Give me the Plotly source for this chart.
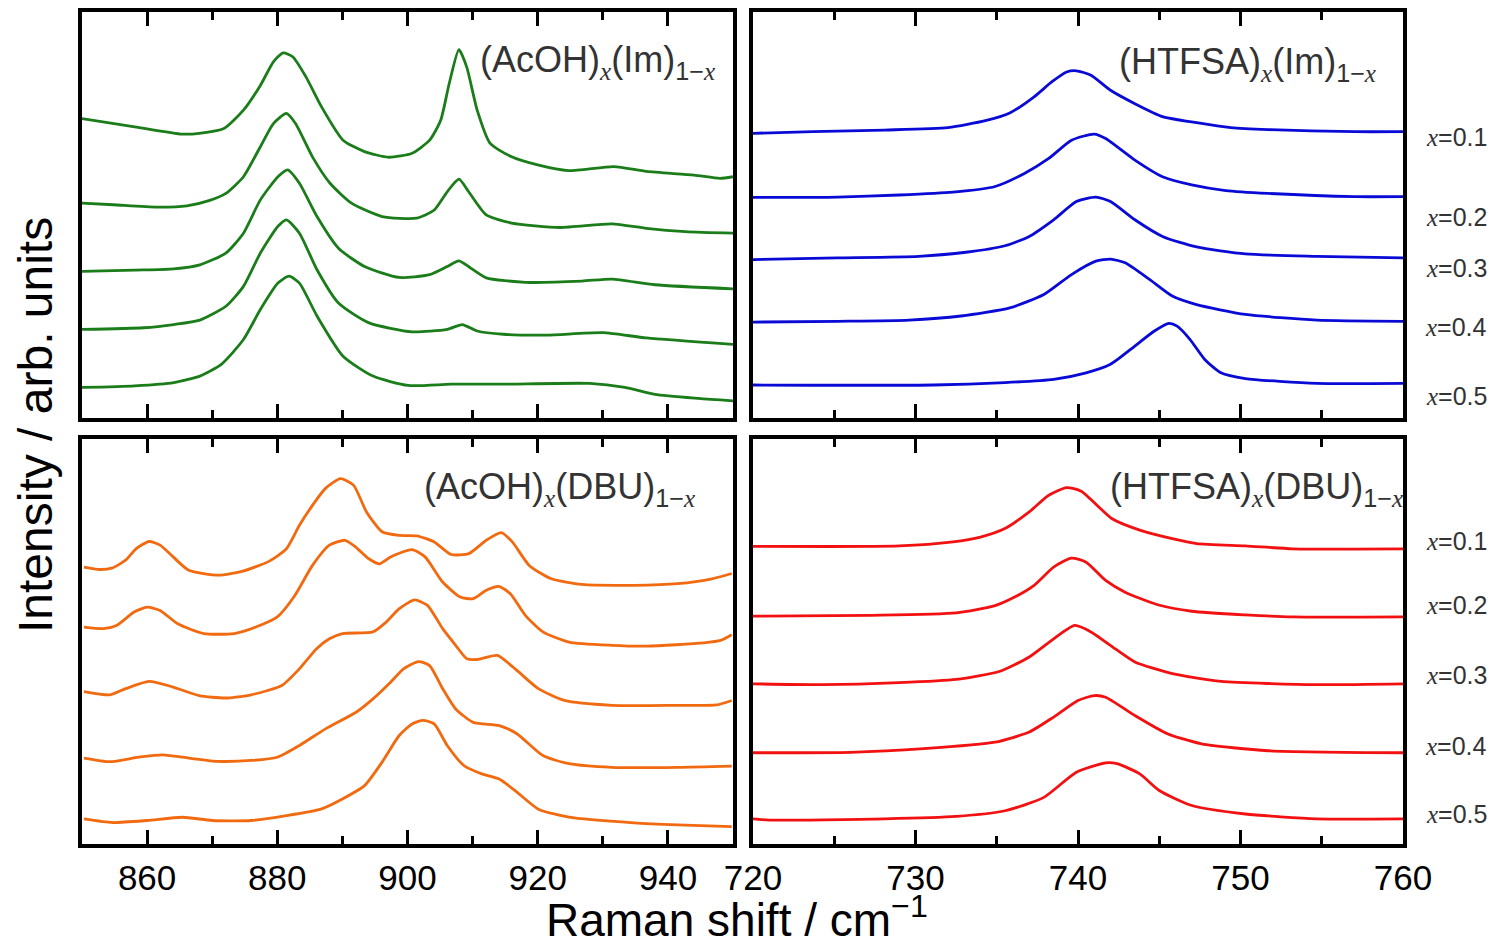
import plotly.graph_objects as go

W, H = 1494, 944

# ---------------- data (y in arb. units, 0-100 per panel) -------------
# (AcOH)x(Im)1-x  : x = 0.1 ... 0.5 (top to bottom)
AIM_X = [
    [850, 858.1, 865.4, 868, 871.8, 874.8, 877.4, 879.4, 880.9, 882.4, 884.4, 886.8, 890.1, 893.4, 897.1, 900.7, 903.4, 905.1, 906.4, 907.9, 909.1, 910.7, 912.7, 916, 920, 924.7, 931.7, 936.7, 944, 948, 950],
    [850, 854.8, 861.5, 866.1, 869.5, 872.1, 874.8, 877.4, 879.4, 881.4, 882.8, 885.4, 888.1, 891.4, 896.1, 901.4, 904.1, 906.1, 907.9, 909.4, 912.1, 916, 923.4, 931.4, 936.7, 942.7, 950],
    [850, 858.1, 864.1, 868.1, 872.1, 874.8, 877.4, 880.1, 881.6, 883.4, 886.1, 889.4, 893.4, 898.7, 903.4, 906.1, 907.9, 909.7, 912.1, 918.1, 926.8, 931.4, 938, 950],
    [850, 859.5, 864.1, 868.1, 872.1, 874.8, 877.4, 880.1, 881.4, 883.4, 886.1, 889.4, 894.1, 900.7, 906.1, 908.4, 910.7, 914.7, 921.4, 930, 936.7, 950],
    [850, 858.1, 864.1, 868.1, 871.4, 874.8, 877.4, 880.1, 881.8, 883.4, 886.1, 890.1, 894.7, 900.1, 906.7, 914.7, 928, 933.4, 938, 944.7, 950],
]
AIM_Y = [
    [73.6, 71.6, 69.8, 70, 71.2, 75.7, 81.8, 87.6, 89.8, 88.8, 83.9, 76.5, 68.3, 65.5, 64.1, 65.1, 68.3, 73.2, 82.2, 90.6, 86.3, 75.7, 67.5, 64.2, 62.2, 60.8, 61.8, 60.6, 59.7, 58.9, 59.3],
    [52.8, 52.4, 51.8, 52.1, 53.4, 55.2, 59.3, 66.7, 72.4, 74.9, 72.4, 64.2, 57.7, 52.8, 49.5, 49.1, 51.1, 55.6, 58.7, 55.6, 49.9, 47.9, 46.8, 47.7, 46.6, 45.8, 45.4],
    [36.0, 36.3, 36.6, 37.6, 40.5, 45.4, 53.6, 59.3, 61.0, 57.7, 49.5, 41.7, 37.2, 34.5, 35.2, 37.2, 38.6, 36.8, 34.4, 33.3, 33.6, 34.1, 32.7, 31.7],
    [21.7, 22.1, 22.9, 24.0, 27.4, 32.3, 40.5, 47.1, 48.7, 45.4, 36.4, 28.2, 23.3, 21.1, 21.7, 22.9, 21.3, 20.5, 20.3, 20.9, 19.6, 18.0],
    [7.4, 7.8, 8.6, 10.2, 13.1, 19.2, 26.6, 33.1, 34.8, 33.1, 25.0, 15.1, 10.2, 7.9, 8.2, 8.2, 8.4, 7.4, 5.7, 4.7, 4.1],
]

# (HTFSA)x(Im)1-x
HIM_X = [
    [720, 723.7, 728.1, 732, 734.3, 735.8, 737.3, 738.4, 739.3, 739.9, 740.8, 742, 743.5, 745.2, 747.3, 749.4, 751.7, 757, 760],
    [720, 725.2, 729, 732.3, 734.9, 736.7, 738.2, 739.6, 741, 741.7, 743.5, 745.2, 747, 749.1, 751.7, 757, 760],
    [720, 725.2, 730.2, 733.1, 735.5, 737, 738.5, 739.9, 741.1, 742, 743.5, 745.2, 747.3, 750.3, 754.7, 760],
    [720, 725.2, 729.6, 732.8, 735.8, 737.9, 739.6, 741.1, 742, 742.9, 744.4, 745.8, 747.3, 750.3, 754.7, 760],
    [720, 731.1, 735.5, 738.5, 740.5, 742, 743.5, 744.7, 745.6, 746.1, 746.9, 747.8, 748.8, 750.3, 754.7, 760],
]
HIM_Y = [
    [70.0, 70.4, 70.8, 71.4, 73.1, 75.0, 79.0, 82.7, 85.1, 85.4, 84.3, 80.6, 77.3, 74.1, 72.6, 71.4, 70.9, 70.4, 70.4],
    [54.2, 54.3, 54.8, 55.5, 56.9, 60.1, 63.8, 68.3, 69.8, 68.7, 63.4, 59.3, 57.3, 55.9, 55.2, 54.4, 54.4],
    [38.9, 39.3, 39.7, 40.7, 42.3, 44.6, 48.7, 53.2, 54.3, 53.2, 48.7, 44.6, 42.0, 40.3, 39.7, 39.3],
    [23.5, 23.7, 24.0, 25.0, 27.0, 30.3, 35.2, 38.5, 39.0, 38.1, 34.0, 29.9, 27.8, 25.4, 24.0, 23.7],
    [8.0, 8.0, 8.6, 9.4, 11.0, 13.1, 17.6, 21.3, 23.2, 22.5, 19.2, 14.3, 11.0, 9.6, 8.4, 8.4],
]

# (AcOH)x(DBU)1-x
ADB_X = [
    [850.3, 852.7, 854.7, 856.7, 858.3, 860.3, 862, 864, 866.4, 871, 874.7, 878.7, 881.4, 883.4, 885.4, 887.4, 889.7, 891.7, 893.7, 896.1, 898.7, 901.4, 904.1, 906.7, 909.4, 912.1, 914.4, 916.1, 918.7, 922.1, 926.8, 934.8, 941.5, 946.8, 949.8],
    [850.3, 853.3, 855.3, 858, 860, 862, 864.7, 868.7, 873.4, 876.7, 880, 882.7, 885.4, 888, 890.4, 892, 894, 895.7, 897.4, 900.7, 902.7, 905.4, 908.1, 910.1, 912.1, 914.1, 915.8, 918.1, 920.8, 924.8, 931.4, 936.8, 945.5, 948.1, 949.8],
    [850.3, 854.3, 856.7, 860.3, 864, 868, 872, 876, 880.7, 883.4, 886, 888, 890, 894.7, 896.7, 898.7, 901.1, 903.1, 905.4, 907.4, 909.1, 910.7, 913.8, 916.8, 920.1, 924.1, 931.4, 941.5, 947.5, 949.8],
    [850.3, 854.3, 858.7, 862.4, 865.4, 870.7, 876, 880, 883.4, 887.4, 892.1, 894.7, 897.4, 899.4, 901.7, 903.4, 905.4, 907.4, 910.1, 914.1, 916.8, 920.8, 924.8, 931.4, 941.5, 949.8],
    [850.3, 854.7, 860, 865.4, 870, 876, 881.4, 886.7, 890, 893.4, 896.1, 898.7, 900.7, 902.4, 904.1, 906.1, 908.7, 911.4, 914.1, 916.8, 920.1, 924.8, 934.8, 941.5, 949.8],
]
ADB_Y = [
    [68.3, 67.7, 68.1, 70.0, 72.8, 74.6, 73.7, 70.8, 67.5, 66.3, 67.3, 69.7, 72.8, 78.6, 83.5, 87.7, 90.1, 88.5, 81.9, 77.0, 76.1, 76.0, 74.5, 71.4, 71.6, 74.9, 76.8, 74.5, 68.7, 65.4, 64.0, 63.8, 64.2, 65.4, 66.7],
    [53.5, 53.1, 53.9, 57.2, 58.4, 57.6, 54.3, 51.9, 51.9, 53.5, 56.0, 61.3, 68.7, 73.7, 74.9, 73.3, 70.4, 69.1, 70.8, 72.6, 70.8, 64.6, 60.9, 60.5, 62.6, 63.5, 61.7, 56.4, 52.3, 49.8, 49.0, 48.8, 49.6, 50.2, 51.6],
    [37.6, 36.8, 38.3, 40.1, 38.7, 36.6, 36.0, 36.8, 39.1, 43.2, 48.1, 50.6, 51.9, 52.3, 54.7, 58.0, 60.2, 58.8, 53.1, 49.0, 45.7, 45.5, 46.5, 42.8, 38.3, 35.4, 34.2, 34.2, 34.3, 35.4],
    [21.2, 20.3, 21.4, 22.0, 21.4, 20.4, 20.6, 21.4, 24.3, 28.4, 32.5, 35.8, 39.9, 43.2, 45.0, 44.0, 38.3, 33.3, 30.0, 29.2, 27.2, 21.8, 19.8, 18.9, 18.9, 19.2],
    [6.2, 5.3, 5.8, 6.6, 5.8, 5.8, 7.0, 8.6, 11.1, 14.4, 20.2, 26.7, 29.6, 30.5, 29.6, 24.3, 19.3, 17.3, 16.0, 12.8, 8.6, 6.6, 5.2, 4.7, 4.3],
]

# (HTFSA)x(DBU)1-x
HDB_X = [
    [720, 729, 732.3, 734, 735.5, 737, 738.2, 739.3, 740.2, 742.1, 743.8, 745.8, 747.3, 750.3, 753.2, 757, 760],
    [720, 727.2, 732.5, 734.9, 736.1, 737.3, 738.5, 739.6, 740.5, 741.7, 742.9, 744.9, 747, 750.3, 753.2, 760],
    [720, 724.3, 729, 732.5, 735.2, 737, 738.5, 739.8, 740.8, 742.3, 743.5, 745.8, 748.8, 754.7, 760],
    [720, 726, 730.5, 734.9, 737, 738.5, 740, 741, 741.7, 743.5, 745.5, 747.6, 751.7, 760],
    [720, 721, 728.1, 732.5, 735.5, 737.9, 739.9, 741.7, 742.4, 743.8, 745, 747, 750.3, 754.7, 760],
]
HDB_Y = [
    [73.4, 73.5, 74.5, 75.7, 77.8, 81.9, 86.0, 87.9, 87.0, 80.2, 77.4, 75.3, 74.1, 73.5, 72.8, 72.7, 72.8],
    [56.2, 56.4, 57.0, 58.8, 60.9, 63.8, 68.3, 70.5, 69.5, 65.0, 62.1, 59.0, 57.4, 56.5, 56.0, 56.0],
    [39.5, 39.3, 39.8, 40.6, 42.6, 46.1, 50.6, 53.9, 52.3, 48.1, 44.9, 42.0, 40.1, 39.3, 39.5],
    [22.5, 22.6, 23.5, 25.1, 27.6, 31.3, 35.4, 36.6, 36.2, 31.7, 27.2, 24.7, 23.0, 22.5],
    [6.2, 5.9, 6.2, 6.8, 8.2, 11.5, 17.7, 20.0, 19.8, 17.3, 13.2, 9.5, 7.4, 6.2, 6.2],
]

X_LABELS = ["0.1", "0.2", "0.3", "0.4", "0.5"]
LEFT_TICKS = [860, 880, 900, 920, 940]
RIGHT_TICKS = [720, 730, 740, 750, 760]

# ---------------- figure ----------------
GREEN, BLUE, ORANGE, RED = "#1a7d1a", "#0a0ad6", "#f26a10", "#f21010"
TXT = "#333333"
FONT = "Liberation Sans, Arial, sans-serif"

fig = go.Figure()

panels = [
    (AIM_X, AIM_Y, GREEN, "x", "y"),
    (HIM_X, HIM_Y, BLUE, "x2", "y2"),
    (ADB_X, ADB_Y, ORANGE, "x3", "y3"),
    (HDB_X, HDB_Y, RED, "x4", "y4"),
]
for xs, ys, col, xa, ya in panels:
    for i in range(len(xs)):
        fig.add_trace(go.Scatter(x=xs[i], y=ys[i], mode="lines", xaxis=xa, yaxis=ya,
                                 line=dict(color=col, width=2.8, shape="spline", smoothing=0.6),
                                 showlegend=False, hoverinfo="skip"))

def px_x(p):
    return p / W

def px_y(p):
    return 1 - p / H

xl = [px_x(82), px_x(733)]
xr = [px_x(753), px_x(1403)]
yt = [px_y(417.5), px_y(11.5)]
yb = [px_y(844), px_y(438.5)]

def xax(dom, anchor, rng, ticks, minor_dtick, labels):
    return dict(domain=dom, anchor=anchor, range=rng, showline=True, linewidth=4, linecolor="black",
                mirror="allticks", ticks="inside", ticklen=14, tickwidth=3, tickcolor="black",
                tickmode="array", tickvals=ticks, ticktext=[str(t) for t in ticks],
                minor=dict(ticks="inside", ticklen=8, tickwidth=3, tickcolor="black",
                           dtick=minor_dtick, tick0=rng[0]),
                showticklabels=labels, tickfont=dict(family=FONT, size=35, color="black"),
                showgrid=False, zeroline=False, fixedrange=True, automargin=False)

def yax(dom, anchor):
    return dict(domain=dom, anchor=anchor, range=[0, 100], showline=True, linewidth=4, linecolor="black",
                mirror=True, ticks="", showticklabels=False, showgrid=False, zeroline=False,
                automargin=False, fixedrange=True)

fig.update_layout(
    width=W, height=H, autosize=False,
    margin=dict(l=0, r=0, t=0, b=0, pad=0, autoexpand=False),
    paper_bgcolor="white", plot_bgcolor="white",
    xaxis=xax(xl, "y", [850, 950], LEFT_TICKS, 10, False),
    yaxis=yax(yt, "x"),
    xaxis2=xax(xr, "y2", [720, 760], RIGHT_TICKS, 5, False),
    yaxis2=yax(yt, "x2"),
    xaxis3=xax(xl, "y3", [850, 950], LEFT_TICKS, 10, True),
    yaxis3=yax(yb, "x3"),
    xaxis4=xax(xr, "y4", [720, 760], RIGHT_TICKS, 5, True),
    yaxis4=yax(yb, "x4"),
)

IX = "<span style='font-family:Liberation Serif, Times New Roman, serif'><i>x</i></span>"

def title(name, base):
    return f"({name})<sub>{IX}</sub>({base})<sub>1−{IX}</sub>"

titles = [
    (title("AcOH", "Im"), 717, 62),
    (title("HTFSA", "Im"), 1378, 64),
    (title("AcOH", "DBU"), 697, 489),
    (title("HTFSA", "DBU"), 1405, 489),
]
for txt, xp, yp in titles:
    fig.add_annotation(text=txt, xref="paper", yref="paper", x=px_x(xp), y=px_y(yp),
                       xanchor="right", yanchor="middle", showarrow=False,
                       font=dict(family=FONT, size=36, color=TXT))

top_lab_y = [137, 217, 268, 327, 396]
bot_lab_y = [541, 605, 675, 746, 814]
for lab, yp in zip(X_LABELS, top_lab_y):
    fig.add_annotation(text=f"{IX}={lab}", xref="paper", yref="paper", x=px_x(1456), y=px_y(yp),
                       xanchor="center", yanchor="middle", showarrow=False,
                       font=dict(family=FONT, size=25, color=TXT))
for lab, yp in zip(X_LABELS, bot_lab_y):
    fig.add_annotation(text=f"{IX}={lab}", xref="paper", yref="paper", x=px_x(1456), y=px_y(yp),
                       xanchor="center", yanchor="middle", showarrow=False,
                       font=dict(family=FONT, size=25, color=TXT))

fig.add_annotation(text="Raman shift / cm<sup>−1</sup>", xref="paper", yref="paper",
                   x=px_x(737), y=px_y(917), xanchor="center", yanchor="middle", showarrow=False,
                   font=dict(family=FONT, size=46, color="black"))
fig.add_annotation(text="Intensity / arb. units", xref="paper", yref="paper", textangle=-90,
                   x=px_x(36), y=px_y(425), xanchor="center", yanchor="middle", showarrow=False,
                   font=dict(family=FONT, size=48, color="black"))

fig.write_html("out.html", config={"displayModeBar": False},
               post_script="document.body.style.margin='0px';document.body.style.overflow='hidden';")
